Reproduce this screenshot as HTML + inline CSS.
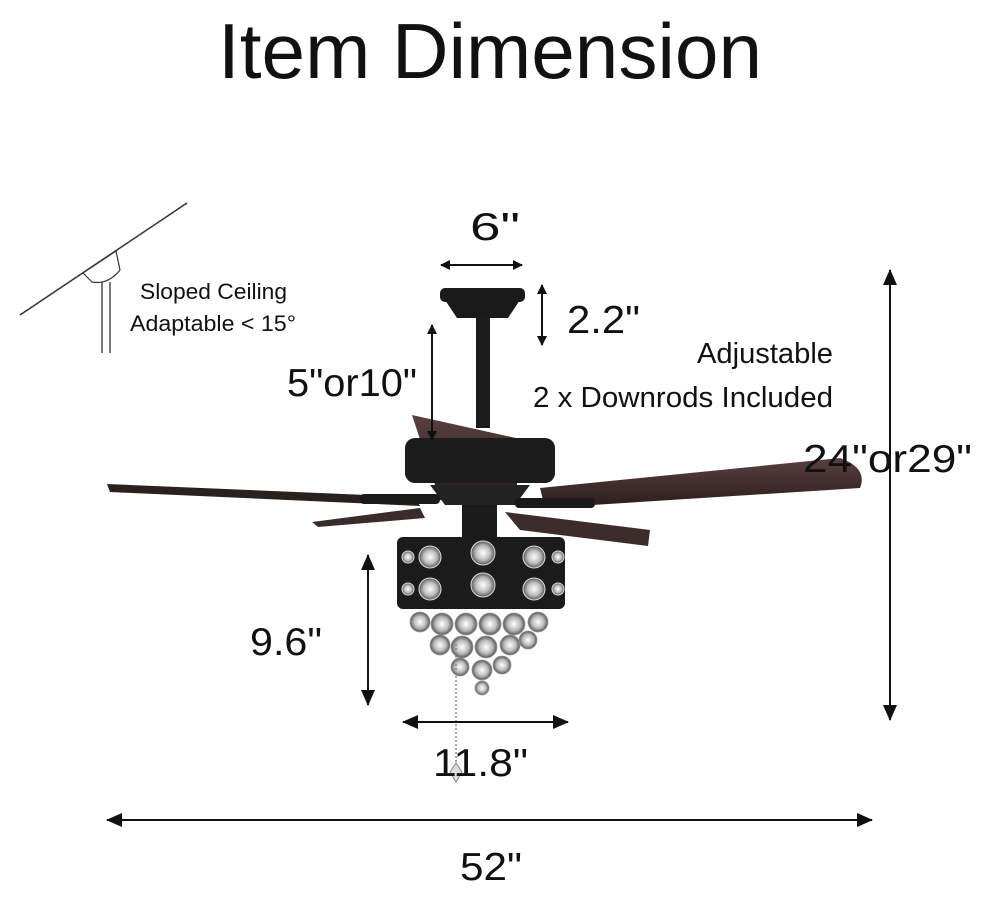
<!DOCTYPE html>
<html><head><meta charset="utf-8"><style>
html,body{margin:0;padding:0;background:#fff;}
svg{display:block;}
text{font-family:"Liberation Sans",Arial,sans-serif;fill:#111;}
</style></head><body>
<svg width="990" height="904" viewBox="0 0 990 904" xmlns="http://www.w3.org/2000/svg">
<defs>
<marker id="ah" markerWidth="10" markerHeight="10" refX="9" refY="5" orient="auto-start-reverse" markerUnits="userSpaceOnUse">
<path d="M0,0 L10,5 L0,10 Z" fill="#111"/></marker>
<marker id="ab" markerWidth="16" markerHeight="14" refX="15" refY="7" orient="auto-start-reverse" markerUnits="userSpaceOnUse">
<path d="M0,0 L16,7 L0,14 Z" fill="#111"/></marker>
<linearGradient id="wood" x1="0" y1="0" x2="0" y2="1"><stop offset="0" stop-color="#5a4040"/><stop offset="1" stop-color="#2a1c1c"/></linearGradient>
<radialGradient id="cr"><stop offset="0" stop-color="#fff"/><stop offset="0.6" stop-color="#bbb"/><stop offset="1" stop-color="#555"/></radialGradient>
</defs>

<text x="490" y="78" font-size="78" text-anchor="middle" textLength="544" lengthAdjust="spacingAndGlyphs">Item Dimension</text>

<!-- sloped ceiling -->
<line x1="20" y1="315" x2="187" y2="203" stroke="#333" stroke-width="1.5"/>
<path d="M83,273 L116,251 L120,270 Q108,285 92,282 Z" fill="#fff" stroke="#333" stroke-width="1.2"/>
<line x1="102" y1="282" x2="102" y2="353" stroke="#333" stroke-width="1.3"/>
<line x1="110" y1="282" x2="110" y2="353" stroke="#333" stroke-width="1.3"/>
<text x="140" y="299" font-size="22" textLength="147" lengthAdjust="spacingAndGlyphs">Sloped Ceiling</text>
<text x="130" y="331" font-size="22" textLength="166" lengthAdjust="spacingAndGlyphs">Adaptable &lt; 15°</text>

<!-- fan: blades -->
<path d="M107,484 L415,497 L420,506 L110,492 Z" fill="#2a2020"/>
<path d="M312,522 L420,508 L425,518 L318,527 Z" fill="#3a2c2c"/>
<path d="M540,488 L840,458 Q868,468 860,488 L545,508 Z" fill="url(#wood)"/>
<path d="M505,512 L650,530 L648,546 L520,530 Z" fill="#3d2c2c"/>
<path d="M412,415 L525,440 L515,495 L440,500 Z" fill="url(#wood)"/>
<!-- motor -->
<rect x="405" y="438" width="150" height="45" rx="10" fill="#1c1c1c"/>
<path d="M430,485 L530,485 L515,505 L445,505 Z" fill="#222"/>
<rect x="360" y="494" width="80" height="10" rx="4" fill="#1a1a1a"/>
<rect x="515" y="498" width="80" height="10" rx="4" fill="#1a1a1a"/>
<!-- canopy and downrod -->
<rect x="440" y="288" width="85" height="14" rx="5" fill="#1a1a1a"/>
<path d="M445,300 L520,300 L508,318 L457,318 Z" fill="#1a1a1a"/>
<rect x="476" y="318" width="14" height="110" fill="#1c1c1c"/>
<rect x="462" y="505" width="35" height="32" fill="#1a1a1a"/>
<!-- light cage -->
<rect x="397" y="537" width="168" height="72" rx="6" fill="#1b1b1b"/>
<g fill="url(#cr)" stroke="#ddd" stroke-width="1">
<circle cx="430" cy="557" r="11"/><circle cx="483" cy="553" r="12"/><circle cx="534" cy="557" r="11"/>
<circle cx="430" cy="589" r="11"/><circle cx="483" cy="585" r="12"/><circle cx="534" cy="589" r="11"/>
<circle cx="408" cy="557" r="6"/><circle cx="558" cy="557" r="6"/><circle cx="408" cy="589" r="6"/><circle cx="558" cy="589" r="6"/>
</g>
<g fill="url(#cr)" stroke="#999" stroke-width="0.8">
<circle cx="420" cy="622" r="10"/><circle cx="442" cy="624" r="11"/><circle cx="466" cy="624" r="11"/><circle cx="490" cy="624" r="11"/><circle cx="514" cy="624" r="11"/><circle cx="538" cy="622" r="10"/>
<circle cx="440" cy="645" r="10"/><circle cx="462" cy="647" r="11"/><circle cx="486" cy="647" r="11"/><circle cx="510" cy="645" r="10"/><circle cx="528" cy="640" r="9"/>
<circle cx="460" cy="667" r="9"/><circle cx="482" cy="670" r="10"/><circle cx="502" cy="665" r="9"/>
<circle cx="482" cy="688" r="7"/>
</g>
<line x1="456" y1="640" x2="456" y2="765" stroke="#888" stroke-width="1.5" stroke-dasharray="2,2"/>
<path d="M456,763 L462,772 L456,782 L450,772 Z" fill="#ddd" stroke="#888"/>

<!-- dimensions -->
<line x1="441" y1="265" x2="522" y2="265" stroke="#111" stroke-width="2" marker-start="url(#ah)" marker-end="url(#ah)"/>
<text x="470" y="240" font-size="39" textLength="50" lengthAdjust="spacingAndGlyphs">6"</text>
<line x1="542" y1="285" x2="542" y2="345" stroke="#111" stroke-width="2" marker-start="url(#ah)" marker-end="url(#ah)"/>
<text x="567" y="333" font-size="39" textLength="73" lengthAdjust="spacingAndGlyphs">2.2"</text>
<line x1="432" y1="325" x2="432" y2="440" stroke="#111" stroke-width="2" marker-start="url(#ah)" marker-end="url(#ah)"/>
<text x="287" y="396" font-size="39" textLength="130" lengthAdjust="spacingAndGlyphs">5"or10"</text>
<text x="697" y="363" font-size="29" textLength="136" lengthAdjust="spacingAndGlyphs">Adjustable</text>
<text x="533" y="407" font-size="29" textLength="300" lengthAdjust="spacingAndGlyphs">2 x Downrods Included</text>
<line x1="890" y1="270" x2="890" y2="720" stroke="#111" stroke-width="2" marker-start="url(#ab)" marker-end="url(#ab)"/>
<text x="803" y="472" font-size="39" textLength="169" lengthAdjust="spacingAndGlyphs">24"or29"</text>
<line x1="368" y1="555" x2="368" y2="705" stroke="#111" stroke-width="2" marker-start="url(#ab)" marker-end="url(#ab)"/>
<text x="250" y="655" font-size="39" textLength="72" lengthAdjust="spacingAndGlyphs">9.6"</text>
<line x1="403" y1="722" x2="568" y2="722" stroke="#111" stroke-width="2" marker-start="url(#ab)" marker-end="url(#ab)"/>
<text x="433" y="776" font-size="39" textLength="95" lengthAdjust="spacingAndGlyphs">11.8"</text>
<line x1="107" y1="820" x2="872" y2="820" stroke="#111" stroke-width="2" marker-start="url(#ab)" marker-end="url(#ab)"/>
<text x="460" y="880" font-size="39" textLength="62" lengthAdjust="spacingAndGlyphs">52"</text>
</svg>
</body></html>
